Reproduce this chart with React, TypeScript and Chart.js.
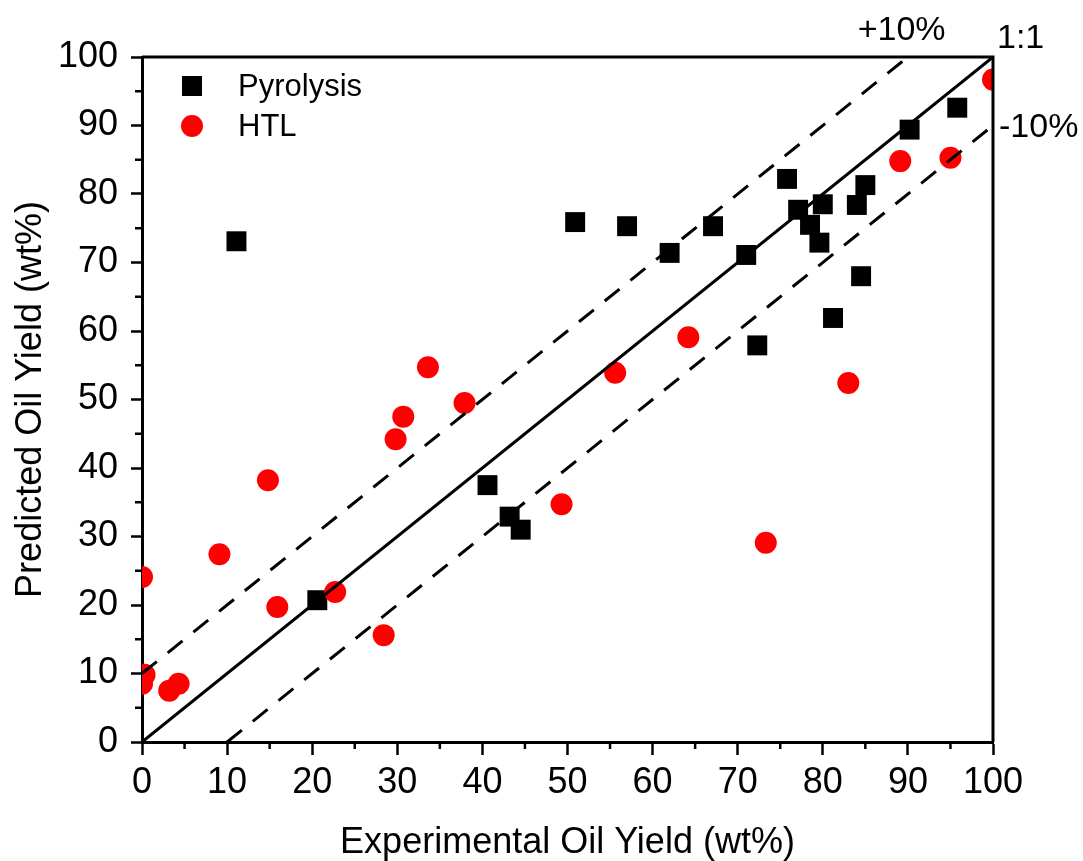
import React, { useEffect, useRef } from 'react';
import { Chart, registerables } from 'chart.js';

Chart.register(...registerables);

// ---- Data ----
const pyrolysisX = [11.1, 50.9, 57.0, 62.0, 67.1, 71.0, 75.8, 77.1, 78.5, 79.6, 80.0, 84.0, 85.0, 84.5, 81.2, 72.3, 90.2, 95.8, 20.6, 40.6, 43.2, 44.5];
const pyrolysisY = [73.1, 75.9, 75.3, 71.4, 75.3, 71.1, 82.2, 77.7, 75.5, 72.9, 78.5, 78.4, 81.3, 68.0, 61.9, 57.9, 89.4, 92.6, 20.7, 37.5, 32.9, 31.0];

const htlX = [0.0, 0.3, 0.0, 3.2, 4.3, 9.1, 14.8, 15.9, 22.7, 28.4, 29.8, 30.7, 33.6, 37.9, 49.3, 55.6, 64.2, 73.3, 83.0, 89.1, 95.0, 100.0];
const htlY = [24.1, 9.8, 8.5, 7.5, 8.5, 27.4, 38.2, 19.7, 21.9, 15.6, 44.2, 47.5, 54.7, 49.5, 34.7, 53.9, 59.1, 29.1, 52.4, 84.8, 85.3, 96.7];

const oneToOneX = [0, 100];
const oneToOneY = [0, 100];
const plusTenX = [0, 90];
const plusTenY = [10, 100];
const minusTenX = [10, 100];
const minusTenY = [0, 90];

const xMinorTicks = [5, 15, 25, 35, 45, 55, 65, 75, 85, 95];
const yMinorTicks = [5, 15, 25, 35, 45, 55, 65, 75, 85, 95];

const seriesNames = ['Pyrolysis', 'HTL'];
const xTitle = 'Experimental Oil Yield (wt%)';
const yTitle = 'Predicted Oil Yield (wt%)';
const lineLabels = ['+10%', '1:1', '-10%'];

const FONT = "'Liberation Sans', Arial, sans-serif";

const zip = (xs: number[], ys: number[]) => xs.map((x, i) => ({ x, y: ys[i] }));

const overlayPlugin = {
  id: 'overlay',
  afterDraw(chart: any) {
    const { ctx, chartArea, scales } = chart;
    const xs = scales.x;
    const ys = scales.y;
    ctx.save();
    // top & right frame
    ctx.strokeStyle = '#000';
    ctx.lineWidth = 3;
    ctx.beginPath();
    ctx.moveTo(chartArea.left, chartArea.top);
    ctx.lineTo(chartArea.right, chartArea.top);
    ctx.lineTo(chartArea.right, chartArea.bottom);
    ctx.stroke();
    // minor ticks
    ctx.lineWidth = 2.5;
    ctx.beginPath();
    xMinorTicks.forEach((v) => {
      const px = xs.getPixelForValue(v);
      ctx.moveTo(px, chartArea.bottom);
      ctx.lineTo(px, chartArea.bottom + 7);
    });
    yMinorTicks.forEach((v) => {
      const py = ys.getPixelForValue(v);
      ctx.moveTo(chartArea.left, py);
      ctx.lineTo(chartArea.left - 7, py);
    });
    ctx.stroke();

    // line labels
    ctx.fillStyle = '#000';
    ctx.font = `34px ${FONT}`;
    ctx.textBaseline = 'middle';
    ctx.textAlign = 'center';
    ctx.fillText(lineLabels[0], xs.getPixelForValue(89.5) - 2, 31);
    ctx.textAlign = 'left';
    ctx.fillText(lineLabels[1], chartArea.right + 4, 39);
    ctx.fillText(lineLabels[2], chartArea.right + 6, 128);

    // legend
    ctx.fillStyle = '#000';
    ctx.fillRect(182, 76, 20, 20);
    ctx.fillStyle = '#ff0000';
    ctx.beginPath();
    ctx.arc(192, 126, 11, 0, Math.PI * 2);
    ctx.fill();
    ctx.fillStyle = '#000';
    ctx.font = `31px ${FONT}`;
    ctx.textAlign = 'left';
    ctx.fillText(seriesNames[0], 238, 87);
    ctx.fillText(seriesNames[1], 238, 127);
    ctx.restore();
  },
};

export default function App() {
  const canvasRef = useRef<HTMLCanvasElement>(null);

  useEffect(() => {
    const canvas = canvasRef.current;
    if (!canvas) return;
    const lineCommon = {
      showLine: true,
      borderColor: '#000',
      borderWidth: 3,
      pointRadius: 0,
      tension: 0,
      fill: false,
    };
    const chart = new Chart(canvas, {
      type: 'scatter',
      data: {
        datasets: [
          { ...lineCommon, label: lineLabels[1], data: zip(oneToOneX, oneToOneY) },
          { ...lineCommon, label: lineLabels[0], data: zip(plusTenX, plusTenY), borderDash: [19, 14] },
          { ...lineCommon, label: lineLabels[2], data: zip(minusTenX, minusTenY), borderDash: [19, 14] },
          {
            label: seriesNames[1],
            data: zip(htlX, htlY),
            pointStyle: 'circle',
            pointRadius: 11,
            backgroundColor: '#ff0000',
            borderWidth: 0,
            pointBorderWidth: 0,
          },
          {
            label: seriesNames[0],
            data: zip(pyrolysisX, pyrolysisY),
            pointStyle: 'rect',
            pointRadius: 14.1,
            backgroundColor: '#000',
            borderWidth: 0,
            pointBorderWidth: 0,
          },
        ],
      },
      options: {
        responsive: false,
        animation: false,
        events: [],
        layout: { padding: { top: 57, right: 90, left: 0, bottom: 0 } },
        plugins: { legend: { display: false }, tooltip: { enabled: false } },
        scales: {
          x: {
            type: 'linear',
            min: 0,
            max: 100,
            afterFit: (s: any) => { s.height = 119; },
            ticks: { stepSize: 10, color: '#000', padding: 6, font: { family: FONT, size: 36 }, maxRotation: 0 },
            grid: { drawOnChartArea: false, drawTicks: true, tickLength: 13, tickWidth: 2.5, tickColor: '#000' },
            border: { display: true, color: '#000', width: 3 },
            title: { display: true, text: xTitle, color: '#000', font: { family: FONT, size: 36, lineHeight: 1 }, padding: { top: 0, bottom: 0 } },
          },
          y: {
            type: 'linear',
            min: 0,
            max: 100,
            afterFit: (s: any) => { s.width = 142; },
            ticks: { stepSize: 10, color: '#000', padding: 13, font: { family: FONT, size: 36 } },
            grid: { drawOnChartArea: false, drawTicks: true, tickLength: 11, tickWidth: 2.5, tickColor: '#000' },
            border: { display: true, color: '#000', width: 3 },
            title: { display: true, text: yTitle, color: '#000', font: { family: FONT, size: 36, lineHeight: 1 }, padding: { top: 13, bottom: 0 } },
          },
        },
      },
      plugins: [overlayPlugin],
    });
    return () => chart.destroy();
  }, []);

  return (
    <div style={{ position: 'absolute', left: 0, top: 0, width: 1083, height: 861, background: '#fff' }}>
      <canvas ref={canvasRef} width={1083} height={861} style={{ display: 'block', width: 1083, height: 861 }} />
    </div>
  );
}
